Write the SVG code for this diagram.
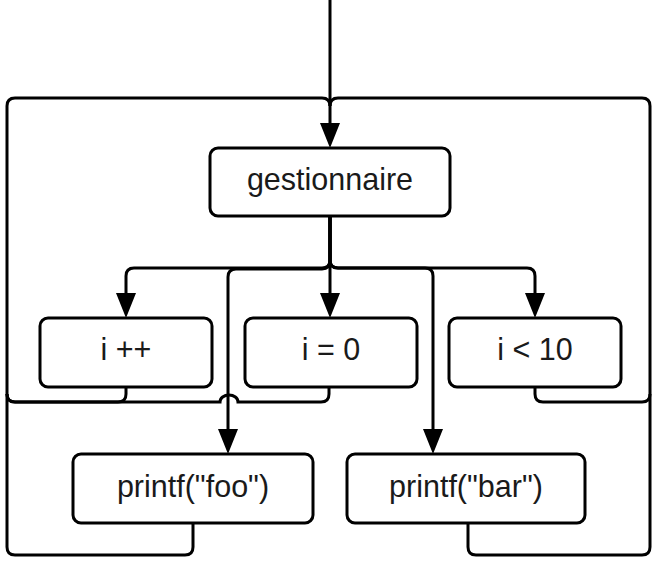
<svg xmlns="http://www.w3.org/2000/svg" width="654" height="563" viewBox="0 0 654 563">
  <style>
    .node rect { fill: #ffffff; stroke: #000000; stroke-width: 3; }
    .node text { font-family: "Liberation Sans", Arial, sans-serif; font-size: 30.5px; fill: #1a1a1a; text-anchor: middle; }
    .edge { fill: none; stroke: #000000; stroke-width: 3; }
    .arrow { marker-end: url(#head); }
  </style>
  <defs>
    <marker id="head" viewBox="0 0 25 20" refX="0" refY="10" markerWidth="25" markerHeight="20" markerUnits="userSpaceOnUse" orient="auto">
      <path d="M0,0 L25,10 L0,20 z" fill="#000000"/>
    </marker>
  </defs>

  <!-- connectors -->
  <g id="connectors">
    <!-- entry from above -->
    <path class="edge arrow" d="M330,0 V123"/>
    <!-- loop back from printf("foo") and i++ / i = 0 along the left side -->
    <path class="edge" d="M193,523 V547 Q193,555 185,555 H15 Q7,555 7,547 V106 Q7,98 15,98 H322 Q330,98 330,106"/>
    <!-- loop back from printf("bar") and i < 10 along the right side -->
    <path class="edge" d="M468,523 V547 Q468,555 476,555 H642 Q650,555 650,547 V106 Q650,98 642,98 H338 Q330,98 330,106"/>
    <!-- returns from the middle row -->
    <path class="edge" d="M126,387 V394 Q126,402 118,402 H15 Q7,402 7,394"/>
    <path class="edge" d="M329,387 V394 Q329,402 321,402 H238 A9,7 0 0 0 220,402 H15 Q7,402 7,394"/>
    <path class="edge" d="M535,387 V394 Q535,402 543,402 H642 Q650,402 650,394"/>
    <!-- fan out from gestionnaire -->
    <path class="edge arrow" d="M330,216 V293"/>
    <path class="edge arrow" d="M330,216 V260 Q330,268 322,268 H134 Q126,268 126,276 V293"/>
    <path class="edge arrow" d="M330,216 V260 Q330,268 338,268 H527 Q535,268 535,276 V293"/>
    <path class="edge arrow" d="M330,216 V260 Q330,269 322,269 H236 Q228,269 228,277 V429"/>
    <path class="edge arrow" d="M330,216 V260 Q330,268 338,268 H425 Q433,268 433,276 V429"/>
  </g>

  <g id="gestionnaire" class="node">
    <rect x="210" y="148" width="240" height="68" rx="8"/>
    <text x="330" y="190">gestionnaire</text>
  </g>
  <g id="incr" class="node">
    <rect x="40" y="318" width="172" height="69" rx="8"/>
    <text x="126" y="360">i ++</text>
  </g>
  <g id="init" class="node">
    <rect x="245" y="318" width="172" height="69" rx="8"/>
    <text x="331" y="360">i = 0</text>
  </g>
  <g id="cond" class="node">
    <rect x="449" y="318" width="172" height="69" rx="8"/>
    <text x="535" y="360">i &lt; 10</text>
  </g>
  <g id="foo" class="node">
    <rect x="73" y="454" width="240" height="69" rx="8"/>
    <text x="193" y="497">printf("foo")</text>
  </g>
  <g id="bar" class="node">
    <rect x="347" y="454" width="238" height="69" rx="8"/>
    <text x="466" y="497">printf("bar")</text>
  </g>
</svg>
